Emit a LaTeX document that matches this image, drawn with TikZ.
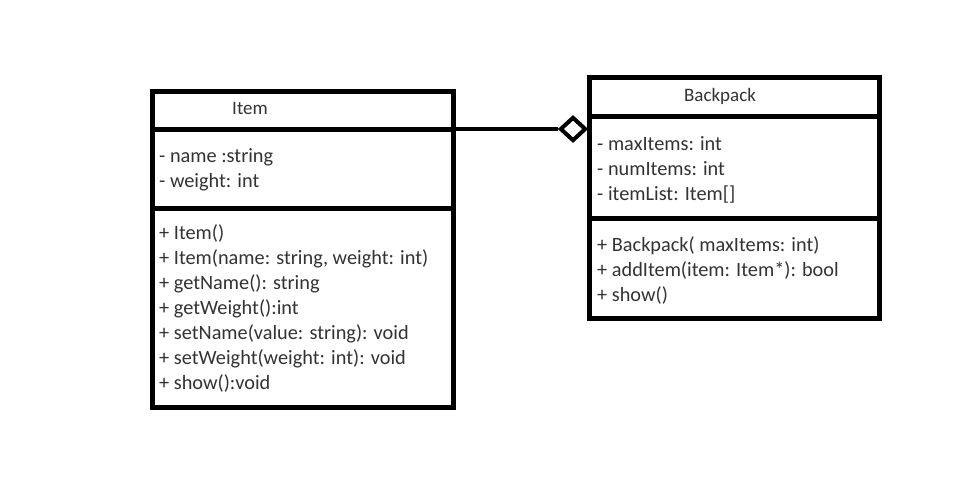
\documentclass[tikz,border=0pt]{standalone}
\usepackage{fontspec}
\setmainfont{Carlito}
\usetikzlibrary{shapes.geometric}
\definecolor{txt}{HTML}{333333}
\tikzset{
  umlbox/.style={draw=black, line width=5pt, inner sep=0pt, fill=none},
  divider/.style={draw=black, line width=5pt},
  title/.style={text=txt, font=\fontsize{19}{25}\selectfont, inner sep=0pt},
  members/.style={text=txt, font=\fontsize{20.3}{25}\selectfont, align=left, anchor=west, inner sep=0pt},
  aggr/.style={draw=black, line width=4pt, shape=diamond, inner sep=0pt, minimum width=26pt, minimum height=24pt, fill=white},
}
\begin{document}
\begin{tikzpicture}[x=1pt,y=-1pt]
\useasboundingbox[fill=white] (0,0) rectangle (975,485);
% Item class
\node[umlbox, minimum width=301pt, minimum height=316pt] (item) at (302.5,249) {};
\coordinate (i1l) at (152,129);
\coordinate (i1r) at (453,129);
\coordinate (i2l) at (152,208);
\coordinate (i2r) at (453,208);
\draw[divider] (i1l) -- (i1r);
\draw[divider] (i2l) -- (i2r);
\node[title] (itemtitle) at (250,108) {Item};
\node[members] (itemattr) at (159,170) {- name :string\\- weight: int};
\node[members] (itemops) at (159,308) {+ Item()\\+ Item(name: string, weight: int)\\+ getName(): string\\+ getWeight():int\\+ setName(value: string): void\\+ setWeight(weight: int): void\\+ show():void};
% Backpack class
\node[umlbox, minimum width=290pt, minimum height=241pt] (bp) at (734,197.5) {};
\coordinate (b1l) at (589,116);
\coordinate (b1r) at (879,116);
\coordinate (b2l) at (589,218);
\coordinate (b2r) at (879,218);
\draw[divider] (b1l) -- (b1r);
\draw[divider] (b2l) -- (b2r);
\node[title] (bptitle) at (720,96) {Backpack};
\node[members] (bpattr) at (597,170) {- maxItems: int\\- numItems: int\\- itemList: Item[]};
\node[members] (bpops) at (597,270) {+ Backpack( maxItems: int)\\+ addItem(item: Item*): bool\\+ show()};
% aggregation
\node[aggr] (dia) at (573,129) {};
\draw[line width=4.5pt] (i1r) -- (dia.west);
\end{tikzpicture}
\end{document}
